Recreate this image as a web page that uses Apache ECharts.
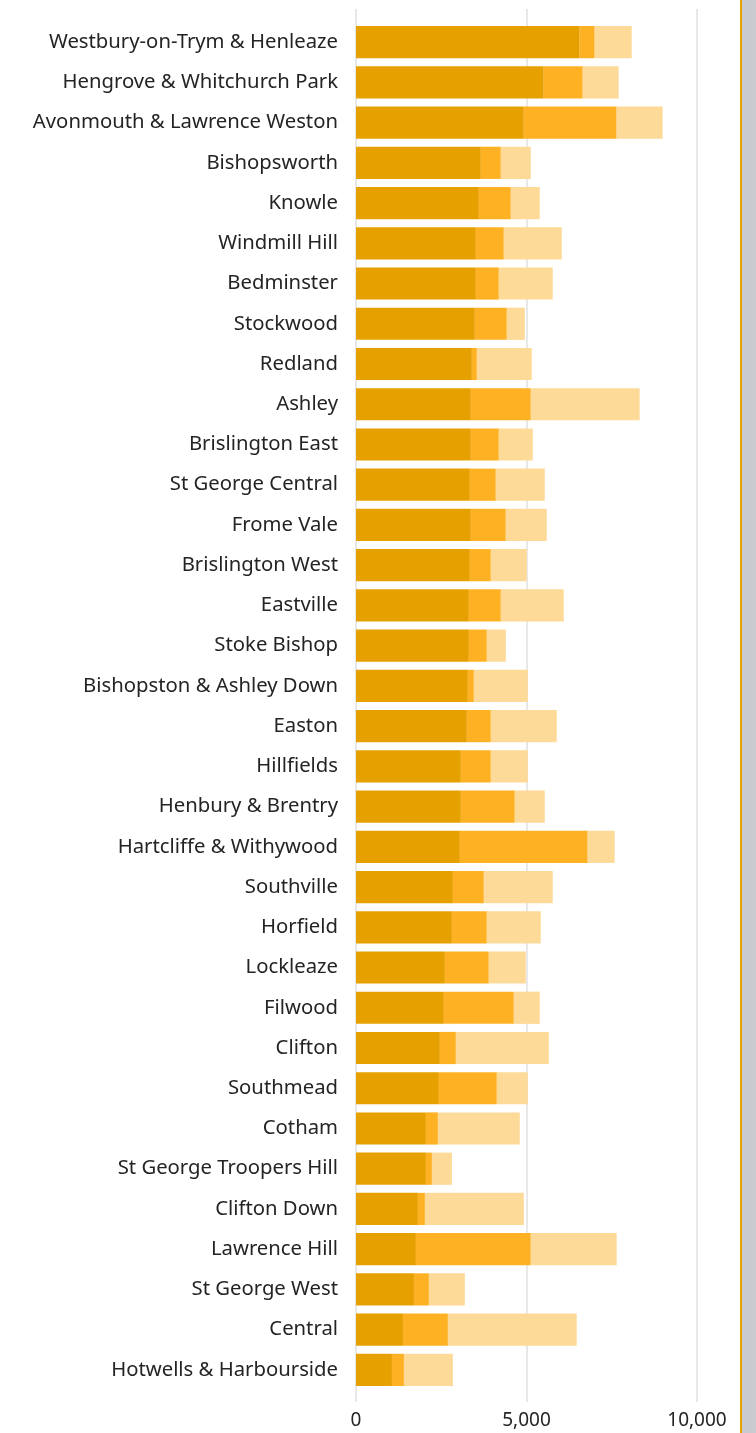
<!DOCTYPE html>
<html><head><meta charset="utf-8">
<script src="https://cdn.jsdelivr.net/npm/echarts@6/dist/echarts.min.js"></script>
<style>
html,body{margin:0;padding:0;width:756px;height:1433px;overflow:hidden;background:linear-gradient(to right,#b6b9bf 0,#c9cbd0 100%);}
#wrap{position:absolute;left:0;top:0;width:740px;height:1433px;background:#fff;border-right:2px solid #E6A000;}
#chart{width:740px;height:1433px;}
</style></head>
<body><div id="wrap"><div id="chart"></div></div>
<script>
const categories = ["Westbury-on-Trym & Henleaze","Hengrove & Whitchurch Park","Avonmouth & Lawrence Weston","Bishopsworth","Knowle","Windmill Hill","Bedminster","Stockwood","Redland","Ashley","Brislington East","St George Central","Frome Vale","Brislington West","Eastville","Stoke Bishop","Bishopston & Ashley Down","Easton","Hillfields","Henbury & Brentry","Hartcliffe & Withywood","Southville","Horfield","Lockleaze","Filwood","Clifton","Southmead","Cotham","St George Troopers Hill","Clifton Down","Lawrence Hill","St George West","Central","Hotwells & Harbourside"];
const series1 = [6560,5506,4921,3661,3603,3515,3515,3485,3398,3368,3368,3339,3368,3339,3310,3310,3280,3251,3075,3075,3046,2841,2812,2607,2577,2460,2431,2050,2050,1816,1757,1699,1377,1054];
const series2 = [440,1143,2723,586,937,820,673,938,146,1758,820,761,1025,615,937,527,176,703,879,1582,3749,908,1025,1288,2051,469,1699,352,176,205,3369,439,1318,352];
const series3 = [1085,1054,1348,879,849,1699,1582,527,1611,3192,996,1436,1201,1054,1845,557,1582,1933,1084,879,791,2021,1581,1084,761,2724,908,2401,586,2900,2518,1054,3778,1435];
const xTicks = {min:0, max:10000, interval:5000};

const chart = echarts.init(document.getElementById('chart'));
const fontFam = '"Noto Sans", "Open Sans", sans-serif';
chart.setOption({
  animation:false,
  grid:[
    {left:356, right:43, top:22, bottom:43},
    {left:356, right:43, top:9, bottom:31}
  ],
  xAxis:[
    {type:'value', gridIndex:0, min:xTicks.min, max:xTicks.max, interval:xTicks.interval,
     axisLabel:{show:false}, splitLine:{show:false}, axisLine:{show:false}, axisTick:{show:false}},
    {type:'value', gridIndex:1, min:xTicks.min, max:xTicks.max, interval:xTicks.interval,
     axisLabel:{show:true, fontSize:19, color:'#252423', fontFamily:fontFam, margin:9,
       formatter:v=>v.toLocaleString('en-US')},
     splitLine:{show:true, lineStyle:{color:'#e8e8e8', width:2}}, axisLine:{show:false}, axisTick:{show:false}}
  ],
  yAxis:[
    {type:'category', gridIndex:0, data:categories, inverse:true,
     axisLine:{show:false}, axisTick:{show:false},
     axisLabel:{fontSize:20.3, color:'#252423', fontFamily:fontFam, margin:18}},
    {type:'value', gridIndex:1, show:false}
  ],
  series:[
    {type:'bar', stack:'t', data:series1, xAxisIndex:0, yAxisIndex:0, barCategoryGap:'20%', itemStyle:{color:'#E6A000'}},
    {type:'bar', stack:'t', data:series2, xAxisIndex:0, yAxisIndex:0, itemStyle:{color:'#FFB124'}},
    {type:'bar', stack:'t', data:series3, xAxisIndex:0, yAxisIndex:0, itemStyle:{color:'#FDDA98'}}
  ]
});
</script></body></html>
